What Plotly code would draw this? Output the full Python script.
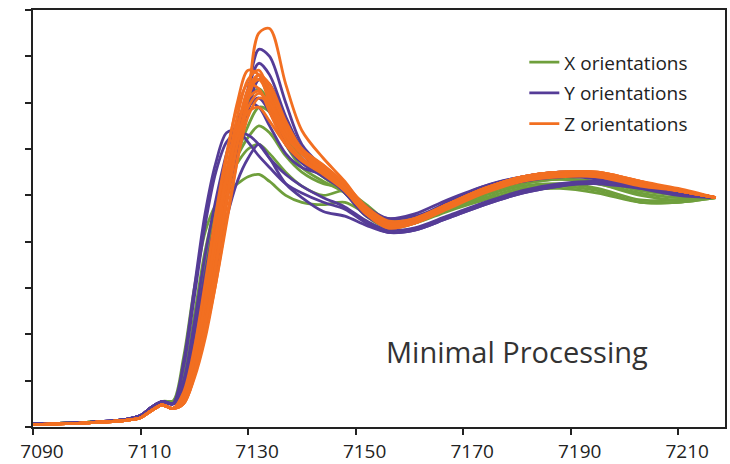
import plotly.graph_objects as go

energy = [7090, 7100, 7107, 7110, 7112, 7114, 7116,
          7118, 7120, 7122, 7124, 7126, 7128, 7130, 7132, 7134, 7137, 7140,
          7144, 7148, 7152, 7156, 7161, 7167, 7174, 7181, 7188, 7195, 7203,
          7210, 7217]

pre_x = [0.012, 0.02, 0.03, 0.045, 0.075, 0.11, 0.11]
pre_y = [0.012, 0.02, 0.032, 0.05, 0.085, 0.11, 0.10]
pre_z = [0.010, 0.018, 0.028, 0.04, 0.07, 0.095, 0.08]

x_orient = [
    [0.30, 0.60, 0.84, 0.96, 1.02, 1.05, 1.08, 1.09, 1.06, 1.00, 0.97, 0.96, 0.97, 0.92, 0.87, 0.88, 0.93, 0.98, 1.02, 1.03, 1.01, 0.97, 0.97, 0.99],
    [0.22, 0.48, 0.76, 0.95, 1.08, 1.17, 1.25, 1.30, 1.27, 1.17, 1.10, 1.05, 1.03, 0.95, 0.89, 0.90, 0.95, 1.00, 1.04, 1.05, 1.03, 0.98, 0.98, 0.99],
    [0.18, 0.40, 0.68, 0.92, 1.10, 1.25, 1.40, 1.46, 1.40, 1.25, 1.15, 1.08, 1.02, 0.93, 0.88, 0.90, 0.96, 1.02, 1.06, 1.07, 1.05, 1.00, 0.98, 0.99],
    [0.15, 0.34, 0.60, 0.85, 1.05, 1.18, 1.30, 1.38, 1.36, 1.22, 1.12, 1.06, 1.01, 0.92, 0.86, 0.89, 0.95, 1.01, 1.05, 1.07, 1.05, 1.01, 0.99, 0.99],
    [0.20, 0.44, 0.72, 0.93, 1.06, 1.14, 1.20, 1.22, 1.18, 1.10, 1.04, 1.00, 1.02, 0.96, 0.89, 0.89, 0.94, 0.99, 1.03, 1.04, 1.02, 0.97, 0.97, 0.99],
    [0.14, 0.30, 0.55, 0.82, 1.05, 1.24, 1.40, 1.50, 1.45, 1.28, 1.16, 1.08, 1.01, 0.91, 0.86, 0.88, 0.95, 1.01, 1.05, 1.07, 1.06, 1.02, 1.00, 0.99],
]

y_orient = [
    [0.14, 0.30, 0.52, 0.76, 1.00, 1.22, 1.45, 1.63, 1.60, 1.40, 1.22, 1.12, 1.04, 0.93, 0.88, 0.90, 0.96, 1.03, 1.07, 1.09, 1.08, 1.04, 1.01, 0.99],
    [0.16, 0.34, 0.58, 0.82, 1.05, 1.27, 1.46, 1.57, 1.52, 1.34, 1.20, 1.10, 1.01, 0.91, 0.87, 0.90, 0.97, 1.04, 1.08, 1.10, 1.09, 1.05, 1.01, 0.99],
    [0.28, 0.60, 0.92, 1.14, 1.27, 1.28, 1.23, 1.17, 1.12, 1.05, 1.01, 0.97, 0.94, 0.88, 0.84, 0.85, 0.90, 0.96, 1.01, 1.04, 1.05, 1.03, 1.01, 0.99],
    [0.26, 0.56, 0.87, 1.10, 1.23, 1.27, 1.26, 1.22, 1.16, 1.09, 1.04, 0.99, 0.95, 0.89, 0.85, 0.86, 0.91, 0.97, 1.02, 1.05, 1.06, 1.04, 1.01, 0.99],
    [0.12, 0.26, 0.45, 0.68, 0.90, 1.06, 1.16, 1.22, 1.16, 1.05, 0.99, 0.93, 0.91, 0.87, 0.84, 0.85, 0.90, 0.96, 1.01, 1.04, 1.06, 1.04, 1.01, 0.99],
    [0.18, 0.40, 0.66, 0.90, 1.10, 1.26, 1.38, 1.42, 1.36, 1.22, 1.14, 1.08, 1.02, 0.94, 0.90, 0.92, 0.98, 1.04, 1.08, 1.10, 1.09, 1.05, 1.02, 0.99],
    [0.20, 0.45, 0.74, 0.98, 1.18, 1.32, 1.40, 1.38, 1.30, 1.18, 1.12, 1.09, 1.04, 0.95, 0.90, 0.91, 0.96, 1.02, 1.06, 1.08, 1.08, 1.05, 1.02, 0.99],
    [0.13, 0.28, 0.50, 0.74, 0.98, 1.18, 1.36, 1.50, 1.48, 1.32, 1.18, 1.10, 1.02, 0.92, 0.87, 0.89, 0.95, 1.02, 1.06, 1.08, 1.07, 1.03, 1.00, 0.99],
]

z_orient = [
    [0.10, 0.22, 0.40, 0.62, 0.88, 1.15, 1.42, 1.70, 1.72, 1.48, 1.28, 1.16, 1.06, 0.94, 0.88, 0.90, 0.96, 1.03, 1.08, 1.10, 1.09, 1.05, 1.02, 0.99],
    [0.14, 0.32, 0.58, 0.88, 1.16, 1.40, 1.54, 1.52, 1.40, 1.26, 1.18, 1.12, 1.04, 0.93, 0.87, 0.89, 0.95, 1.02, 1.07, 1.09, 1.09, 1.05, 1.02, 0.99],
    [0.12, 0.28, 0.52, 0.82, 1.10, 1.34, 1.50, 1.54, 1.44, 1.28, 1.19, 1.13, 1.05, 0.94, 0.88, 0.90, 0.96, 1.03, 1.08, 1.10, 1.10, 1.06, 1.02, 0.99],
    [0.11, 0.25, 0.46, 0.74, 1.02, 1.28, 1.46, 1.52, 1.46, 1.30, 1.20, 1.13, 1.04, 0.93, 0.87, 0.89, 0.96, 1.03, 1.08, 1.10, 1.10, 1.06, 1.02, 0.99],
    [0.10, 0.22, 0.42, 0.68, 0.96, 1.22, 1.42, 1.52, 1.48, 1.32, 1.20, 1.12, 1.03, 0.92, 0.86, 0.88, 0.95, 1.02, 1.07, 1.09, 1.09, 1.05, 1.02, 0.99],
    [0.13, 0.30, 0.55, 0.84, 1.10, 1.30, 1.42, 1.45, 1.38, 1.24, 1.16, 1.10, 1.02, 0.92, 0.87, 0.89, 0.95, 1.02, 1.07, 1.09, 1.08, 1.05, 1.02, 0.99],
    [0.12, 0.27, 0.50, 0.78, 1.05, 1.28, 1.45, 1.50, 1.42, 1.27, 1.18, 1.12, 1.05, 0.95, 0.89, 0.90, 0.96, 1.03, 1.08, 1.10, 1.10, 1.06, 1.03, 0.99],
    [0.10, 0.21, 0.38, 0.62, 0.90, 1.15, 1.34, 1.42, 1.40, 1.28, 1.18, 1.10, 1.02, 0.92, 0.86, 0.88, 0.95, 1.02, 1.07, 1.09, 1.09, 1.05, 1.02, 0.99],
    [0.15, 0.34, 0.62, 0.92, 1.18, 1.38, 1.48, 1.46, 1.36, 1.22, 1.15, 1.09, 1.02, 0.92, 0.87, 0.89, 0.95, 1.02, 1.07, 1.09, 1.09, 1.05, 1.02, 0.99],
    [0.11, 0.24, 0.44, 0.70, 0.98, 1.22, 1.38, 1.44, 1.40, 1.26, 1.18, 1.11, 1.03, 0.93, 0.87, 0.88, 0.94, 1.01, 1.06, 1.08, 1.08, 1.04, 1.02, 0.99],
    [0.13, 0.29, 0.54, 0.83, 1.08, 1.26, 1.36, 1.38, 1.32, 1.22, 1.15, 1.10, 1.03, 0.93, 0.88, 0.89, 0.95, 1.02, 1.07, 1.09, 1.09, 1.05, 1.02, 0.99],
]

x_ticks = [7090, 7110, 7130, 7150, 7170, 7190, 7210]

groups = [
    ("X orientations", "#6f9f3c", pre_x, x_orient),
    ("Y orientations", "#553c97", pre_y, y_orient),
    ("Z orientations", "#f26f21", pre_z, z_orient),
]

fig = go.Figure()
for name, color, pre, curves in groups:
    for i, post in enumerate(curves):
        fig.add_trace(go.Scatter(
            x=energy, y=pre + post, mode="lines", name=name,
            legendgroup=name, showlegend=(i == 0),
            line=dict(color=color, width=2.8, shape="spline", smoothing=0.9),
        ))

axis_common = dict(showgrid=False, zeroline=False, showline=True, linecolor="#222",
                   linewidth=2, mirror=True, ticks="outside", tickcolor="#222",
                   tickwidth=2, ticklen=6, automargin=False)

fig.update_xaxes(range=[7090, 7218.7], tickvals=x_ticks, ticklabelshift=9,
                 ticklabelstandoff=0,
                 tickfont=dict(family="Open Sans", size=19, color="#222"),
                 **axis_common)
fig.update_yaxes(range=[0, 1.8], dtick=0.2, showticklabels=False, **axis_common)

fig.add_annotation(text="Minimal Processing", xref="paper", yref="paper",
                   x=0.70, y=0.18, xanchor="center", yanchor="middle", showarrow=False,
                   font=dict(family="Open Sans", size=29, color="#333"))

fig.update_layout(
    width=730, height=464,
    margin=dict(l=33, r=5, t=10, b=37),
    paper_bgcolor="white", plot_bgcolor="white",
    legend=dict(x=0.71, y=0.92, xanchor="left", yanchor="top",
                font=dict(family="Open Sans", size=19, color="#222"),
                tracegroupgap=3, bgcolor="rgba(0,0,0,0)"),
)

fig.write_html("out.html")
